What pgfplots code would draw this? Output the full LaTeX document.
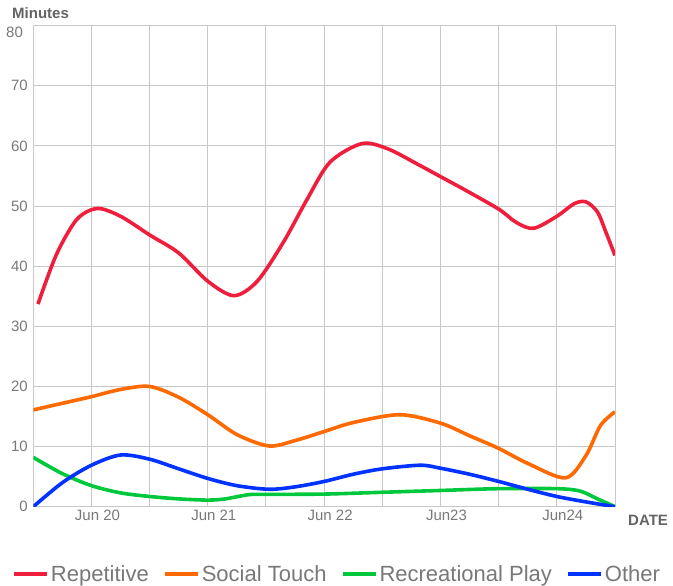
\documentclass[border=0pt]{standalone}
\usepackage{fontspec}
\setmainfont{Liberation Sans}
\usepackage{pgfplots}
\pgfplotsset{compat=1.18}

\definecolor{repred}{RGB}{238,30,60}
\definecolor{touchorange}{RGB}{255,106,0}
\definecolor{playgreen}{RGB}{0,200,60}
\definecolor{otherblue}{RGB}{0,51,255}
\definecolor{gridgray}{RGB}{200,200,200}
\definecolor{txtgray}{RGB}{120,120,120}
\definecolor{ttlgray}{RGB}{100,100,100}

\begin{document}
\begin{tikzpicture}[x=1pt,y=1pt]
  \useasboundingbox (0,0) rectangle (673,-586);
  \begin{axis}[
    at={(33.3pt,-506.7pt)}, anchor=south west,
    scale only axis,
    width=581.7pt, height=481pt,
    xmin=0, xmax=10, ymin=0, ymax=80,
    xtick={0,...,10},
    xticklabels={,Jun 20,,Jun 21,,Jun 22,,Jun23,,Jun24,},
    ytick={0,10,...,70},
    major tick length=0pt,
    grid=major,
    major grid style={gridgray,line width=1pt},
    axis line style={gridgray,line width=1pt},
    tick label style={font=\fontsize{15}{18}\selectfont, text=txtgray},
    xticklabel style={xshift=6pt},
    yticklabel style={xshift=-2pt},
    /pgf/number format/assume math mode=true,
    clip mode=individual,
    legend columns=4,
    legend style={at={(axis description cs:0.522,-0.14)}, anchor=center,
      draw=none, fill=none,
      font=\fontsize{22}{26}\selectfont, text=txtgray,
      /tikz/every even column/.append style={column sep=12pt}},
    legend image code/.code={\draw[#1,line width=4pt] (0pt,0pt) -- (33pt,0pt);},
    every axis plot/.append style={line width=3.6pt, smooth, no markers},
  ]
    % Repetitive
    \addplot[repred] coordinates {
      (0.08,33.7) (0.4,42) (0.75,47.8) (1.1,49.6) (1.5,48.3) (2.0,45.2)
      (2.5,42.2) (3.0,37.5) (3.45,35.1) (3.85,37.5) (4.3,44) (4.7,51)
      (5.1,57.3) (5.65,60.4) (6.1,59.5) (6.6,57) (7.0,54.9)
      (7.4,52.8) (8.0,49.5) (8.3,47.3) (8.6,46.3) (9.0,48.3) (9.3,50.4)
      (9.5,50.7) (9.7,49) (9.85,45.5) (10,41.8)};
    % Social Touch
    \addplot[touchorange] coordinates {
      (0,16.1) (0.5,17.2) (1,18.3) (1.5,19.5) (2,20) (2.5,18.2) (3,15.3)
      (3.5,12) (4.05,10.1) (4.5,11) (5,12.5) (5.5,14) (6.3,15.3) (7,13.9)
      (7.5,11.8) (8,9.7) (8.5,7.2) (9.15,4.8) (9.5,8.5) (9.75,13.5) (10,15.8)};
    % Recreational Play
    \addplot[playgreen] coordinates {
      (0,8.2) (0.5,5.5) (1,3.5) (1.5,2.3) (2,1.7) (2.5,1.3) (3,1.1)
      (3.3,1.3) (3.7,2.0) (4,2.05) (5,2.1) (6,2.4) (7,2.7) (8,3.0)
      (9,3.0) (9.4,2.6) (9.7,1.3) (10,0)};
    % Other
    \addplot[otherblue] coordinates {
      (0,0) (0.5,4) (1,6.9) (1.5,8.6) (2,7.9) (2.5,6.3) (3,4.7) (3.5,3.5)
      (4.05,2.9) (4.5,3.3) (5,4.2) (5.5,5.4) (6,6.3) (6.65,6.9) (7,6.4)
      (7.5,5.4) (8,4.2) (8.5,2.9) (9,1.7) (9.5,0.8) (10,0)};
    \legend{Repetitive,Social Touch,Recreational Play,Other}

    \node[anchor=west, inner sep=0pt, font=\bfseries\fontsize{15}{17}\selectfont, text=ttlgray]
      at (axis description cs:-0.0366,1.0264) {Minutes};
    \node[anchor=west, inner sep=0pt, font=\bfseries\fontsize{15}{17}\selectfont, text=ttlgray]
      at (axis description cs:1.0224,-0.0277) {DATE};
    \node[anchor=east, font=\fontsize{15}{18}\selectfont, text=txtgray]
      at (axis description cs:-0.0118,0.987) {80};
  \end{axis}
\end{tikzpicture}
\end{document}
